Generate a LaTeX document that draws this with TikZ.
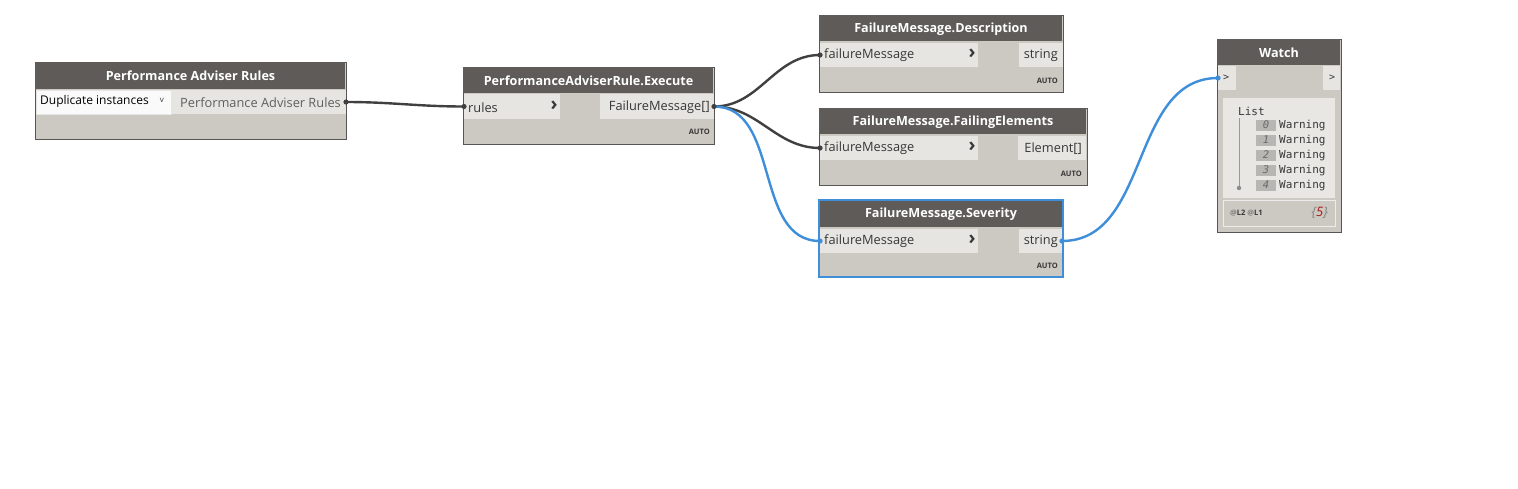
\documentclass[tikz,border=0pt]{standalone}
\usepackage{fontspec}
\setmainfont{Open Sans}
\newfontfamily\monofont{DejaVu Sans Mono}
\definecolor{hdrc}{RGB}{94,91,88}
\definecolor{bodyc}{RGB}{204,200,194}
\definecolor{portc}{RGB}{230,229,226}
\definecolor{edgec}{RGB}{88,86,84}
\definecolor{wirec}{RGB}{64,64,64}
\definecolor{bluec}{RGB}{62,142,218}
\definecolor{listc}{RGB}{232,231,228}
\definecolor{idxc}{RGB}{184,182,178}
\definecolor{idxt}{RGB}{105,105,105}
\definecolor{txtc}{RGB}{55,55,55}
\definecolor{redc}{RGB}{170,20,20}
\tikzset{
  body/.style={draw=edgec, line width=0.8pt, fill=bodyc, anchor=north west, inner sep=0pt, outer sep=0pt},
  hdr/.style={fill=hdrc, anchor=north west, inner sep=0pt, outer sep=0pt},
  portbox/.style={fill=portc, anchor=north west, inner sep=0pt, outer sep=0pt},
  hdrtxt/.style={text=white, font=\fontsize{12.6}{14}\selectfont\bfseries, inner sep=0pt},
  ptxt/.style={text=txtc, font=\fontsize{12.8}{14}\selectfont, inner sep=0pt},
  chev/.style={text=txtc, font=\fontsize{19}{20}\selectfont\bfseries, inner sep=0pt},
  autotxt/.style={text=txtc, font=\fontsize{7.5}{8}\selectfont\bfseries, inner sep=0pt, anchor=east},
  wire/.style={draw=wirec, line width=2.4pt},
  bwire/.style={draw=bluec, line width=2.4pt},
  mono/.style={font=\monofont\fontsize{11}{12}\selectfont, inner sep=0pt},
  idx/.style={fill=idxc, minimum width=20pt, minimum height=11pt, inner sep=0pt, text=idxt, font=\monofont\itshape\fontsize{10.5}{11}\selectfont},
}
\begin{document}
\begin{tikzpicture}[x=1pt,y=-1pt]
\useasboundingbox[fill=white] (0,0) rectangle (1518,488);

% ---------- Performance Adviser Rules ----------
\node[body, minimum width=311pt, minimum height=77pt] (n1) at (35,62) {};
\node[hdr, minimum width=310pt, minimum height=26.5pt] (n1h) at (35.4,62.4) {};
\node[hdrtxt] (n1t) at (190.5,76) {Performance Adviser Rules};
\node[anchor=north west, fill=white!96!gray, draw=white!80!gray, line width=0.6pt, minimum width=135pt, minimum height=24pt, inner sep=0pt] (n1dd) at (36,90) {};
\node[ptxt, font=\fontsize{12}{14}\selectfont, text=black, anchor=west] (n1ddt) at (40,101.5) {Duplicate instances};
\node[text=txtc, font=\fontsize{8}{9}\selectfont, inner sep=0pt] (n1ddv) at (162,100) {v};
\node[portbox, minimum width=175pt, minimum height=24pt] (n1out) at (171,90) {};
\node[ptxt, text=txtc!80!white, anchor=east] (n1outt) at (341,102.5) {Performance Adviser Rules};

% ---------- PerformanceAdviserRule.Execute ----------
\node[body, minimum width=251pt, minimum height=77pt] (n2) at (463,67) {};
\node[hdr, minimum width=250pt, minimum height=26pt] (n2h) at (463.4,67.4) {};
\node[hdrtxt] (n2t) at (588.5,81) {PerformanceAdviserRule.Execute};
\node[portbox, minimum width=96pt, minimum height=25pt] (n2in) at (464,94) {};
\node[ptxt, anchor=west] (n2int) at (468,107.5) {rules};
\node[chev] (n2c) at (554,105.5) {›};
\node[portbox, minimum width=114pt, minimum height=25pt] (n2out) at (600,94) {};
\node[ptxt, anchor=east] (n2outt) at (710,107.5) {FailureMessage[]};
\node[autotxt] (n2a) at (710,132) {AUTO};

% ---------- FailureMessage.Description ----------
\node[body, minimum width=244pt, minimum height=77pt] (n3) at (819,15) {};
\node[hdr, minimum width=243pt, minimum height=26pt] (n3h) at (819.4,15.4) {};
\node[hdrtxt] (n3t) at (941,29) {FailureMessage.Description};
\node[portbox, minimum width=158pt, minimum height=24pt] (n3in) at (820,43) {};
\node[ptxt, anchor=west] (n3int) at (824,55.5) {failureMessage};
\node[chev] (n3c) at (972,54) {›};
\node[portbox, minimum width=44pt, minimum height=24pt] (n3out) at (1019,43) {};
\node[ptxt, anchor=east] (n3outt) at (1058,55.5) {string};
\node[autotxt] (n3a) at (1058,81) {AUTO};

% ---------- FailureMessage.FailingElements ----------
\node[body, minimum width=268pt, minimum height=77pt] (n4) at (819,108) {};
\node[hdr, minimum width=267pt, minimum height=26pt] (n4h) at (819.4,108.4) {};
\node[hdrtxt] (n4t) at (953,122) {FailureMessage.FailingElements};
\node[portbox, minimum width=158pt, minimum height=24pt] (n4in) at (820,136) {};
\node[ptxt, anchor=west] (n4int) at (824,148.5) {failureMessage};
\node[chev] (n4c) at (972,147) {›};
\node[portbox, minimum width=68pt, minimum height=24pt] (n4out) at (1018,136) {};
\node[ptxt, anchor=east] (n4outt) at (1082,148.5) {Element[]};
\node[autotxt] (n4a) at (1082,174) {AUTO};

% ---------- FailureMessage.Severity ----------
\node[body, draw=bluec, line width=1.8pt, minimum width=244pt, minimum height=77pt] (n5) at (819,200) {};
\node[hdr, minimum width=242pt, minimum height=26pt] (n5h) at (820,201) {};
\node[hdrtxt] (n5t) at (941,214) {FailureMessage.Severity};
\node[portbox, minimum width=158pt, minimum height=24pt] (n5in) at (820,229) {};
\node[ptxt, anchor=west] (n5int) at (824,241.5) {failureMessage};
\node[chev] (n5c) at (972,240) {›};
\node[portbox, minimum width=43pt, minimum height=24pt] (n5out) at (1019,229) {};
\node[ptxt, anchor=east] (n5outt) at (1058,241.5) {string};
\node[autotxt] (n5a) at (1058,266) {AUTO};

% ---------- Watch ----------
\node[body, minimum width=124pt, minimum height=193pt] (w) at (1217,39) {};
\node[hdr, minimum width=123pt, minimum height=26pt] (wh) at (1217.4,39.4) {};
\node[hdrtxt] (wt) at (1279,53) {Watch};
\node[portbox, minimum width=18pt, minimum height=24pt] (win) at (1218,66) {};
\node[text=txtc, font=\monofont\fontsize{10}{11}\selectfont, inner sep=0pt] (wint) at (1226,78) {>};
\node[portbox, minimum width=17pt, minimum height=24pt] (wout) at (1323,66) {};
\node[text=txtc, font=\monofont\fontsize{10}{11}\selectfont, inner sep=0pt] (woutt) at (1332,78) {>};
\node[fill=listc, anchor=north west, minimum width=112pt, minimum height=100pt, inner sep=0pt] (wl) at (1223,98) {};
\node[mono, text=txtc, anchor=west] (wlist) at (1238,111) {List};
\coordinate (wlt) at (1239,118);
\coordinate (wlb) at (1239,188);
\draw[draw=gray!80, line width=0.8pt] (wlt) -- (wlb);
\fill[gray!90] (wlb) circle (2.2pt);
\foreach \i/\yy in {0/125,1/140,2/155,3/170,4/185}{
  \node[idx] (wi\i) at (1266,\yy) {\i};
  \node[mono, text=txtc, anchor=west] (ww\i) at (1279,\yy) {Warning};
}
\node[draw=white!85!gray, line width=0.8pt, fill=bodyc, anchor=north west, minimum width=112pt, minimum height=26pt, inner sep=0pt] (wf) at (1223,200) {};
\node[text=txtc, font=\fontsize{7.5}{8}\selectfont\bfseries, inner sep=0pt, anchor=west] (wfl) at (1230,213) {{\color{gray}@}L2 {\color{gray}@}L1};
\node[font=\fontsize{13}{14}\selectfont\itshape, inner sep=0pt, anchor=east, text=gray] (wfn) at (1328,213) {\{{\color{redc}5}\}};

% ---------- wires ----------
\draw[wire] (n1out.east) to[out=0,in=180] (n2in.west);
\draw[wire] (n2out.east) to[out=0,in=180] (n3in.west);
\draw[wire] (n2out.east) to[out=0,in=180] (n4in.west);
\draw[bwire] (n2out.east) to[out=0,in=180] (n5in.west);
\draw[bwire] (n5out.east) to[out=0,in=180] (win.west);

% port tabs
\fill[wirec] (n1out.east) circle (2.6pt);
\fill[wirec] (n2in.west) circle (2.6pt);
\fill[wirec] (n2out.east) circle (2.6pt);
\fill[wirec] (n3in.west) circle (2.6pt);
\fill[wirec] (n4in.west) circle (2.6pt);
\fill[bluec] (n5in.west) circle (2.6pt);
\fill[bluec] (n5out.east) circle (2.6pt);
\fill[bluec] (win.west) circle (2.6pt);
\end{tikzpicture}
\end{document}
